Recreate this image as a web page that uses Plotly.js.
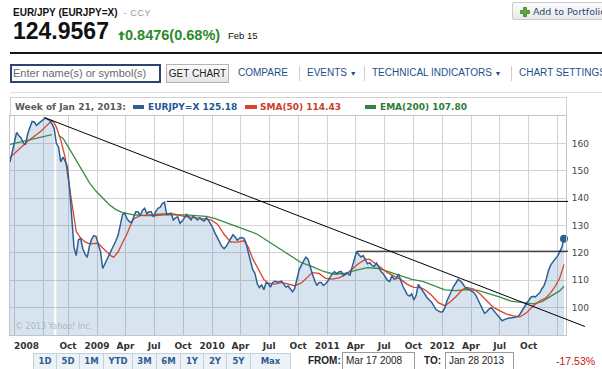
<!DOCTYPE html>
<html><head><meta charset="utf-8">
<script src="https://cdn.plot.ly/plotly-3.0.1.min.js"></script>
<style>
html,body{margin:0;padding:0;background:#fff;width:602px;height:369px;overflow:hidden;}
#wrap{position:relative;width:602px;height:369px;}
#chart{position:absolute;left:0;top:0;width:602px;height:369px;}
.a{position:absolute;white-space:nowrap;line-height:1;pointer-events:none;}
.ar{font-family:"Liberation Sans",Arial,sans-serif;}
.dv{font-family:"DejaVu Sans",Verdana,sans-serif;}
.nav{font-size:10px;color:#1d4f8c;top:68px;}
.sep{width:1px;height:15px;top:66px;background:#cfcfcf;}
.btn{position:absolute;top:0;height:16px;line-height:15px;text-align:center;border-right:1px solid #c3d0dd;font-size:8.5px;font-weight:bold;color:#2f5c94;}
</style></head><body><div id="wrap">
<div id="chart"></div>

<div class="a ar" style="left:13px;top:8px;font-size:10px;font-weight:bold;color:#111">EUR/JPY (EURJPY=X)<span style="font-weight:normal;color:#9a9a9a;font-size:9px;letter-spacing:0.6px;margin-left:6px">- CCY</span></div>
<div class="a ar" style="left:13px;top:20px;font-size:23px;font-weight:bold;color:#111">124.9567</div>
<svg class="a" style="left:118px;top:31px" width="7" height="9"><polygon points="3.5,0 7,4 4.7,4 4.7,9 2.3,9 2.3,4 0,4" fill="#2b8a2b"/></svg>
<div class="a ar" style="left:125px;top:28px;font-size:14.5px;font-weight:bold;color:#2b8a2b">0.8476(0.68%)</div>
<div class="a ar" style="left:228px;top:31px;font-size:9.5px;color:#111">Feb 15</div>
<div class="a" style="left:10px;top:51.5px;width:592px;height:2px;background:#151515"></div>

<div class="a" style="left:512px;top:2px;width:100px;height:18px;box-sizing:border-box;border:1px solid #c9c9c9;border-radius:2px;background:linear-gradient(#fcfcfc,#e9e9e9)"></div>
<svg class="a" style="left:520px;top:6.5px" width="10" height="10"><path d="M3.5,0.5h3v3h3v3h-3v3h-3v-3h-3v-3h3z" fill="#5aa83c" stroke="#3d7a28" stroke-width="0.8"/></svg>
<div class="a dv" style="left:533px;top:7px;font-size:9.5px;color:#2b4a78">Add to Portfolio</div>

<div class="a" style="left:10px;top:64px;width:151px;height:19px;box-sizing:border-box;border:2px solid #2b4470;background:#fff"></div>
<div class="a ar" style="left:13px;top:67.5px;font-size:11px;color:#6a6a6a">Enter name(s) or symbol(s)</div>
<div class="a ar" style="left:166px;top:64px;width:63px;height:19px;box-sizing:border-box;border:1px solid #b3b3b3;background:linear-gradient(#fdfdfd,#e4e4e4);font-size:10px;line-height:17px;text-align:center;color:#222">GET CHART</div>
<div class="a ar nav" style="left:238px">COMPARE</div>
<div class="a sep" style="left:299px"></div>
<div class="a ar nav" style="left:307px">EVENTS <span style="font-size:7px">&#9660;</span></div>
<div class="a sep" style="left:364px"></div>
<div class="a ar nav" style="left:372px">TECHNICAL INDICATORS <span style="font-size:7px">&#9660;</span></div>
<div class="a sep" style="left:511px"></div>
<div class="a ar nav" style="left:519px">CHART SETTINGS</div>

<div class="a" style="left:10px;top:92px;width:592px;height:1px;background:#dedede"></div>
<div class="a" style="left:10px;top:97px;width:557px;height:20px;box-sizing:border-box;border:1px solid #cfcfcf;border-bottom:none"></div>

<div class="a dv" style="left:15px;top:103px;font-size:9px;font-weight:bold;color:#5a5a5a">Week of Jan 21, 2013:</div>
<div class="a" style="left:133px;top:104.5px;width:11px;height:4px;background:#2d5f95"></div>
<div class="a dv" style="left:148px;top:103px;font-size:9px;font-weight:bold;color:#24578f">EURJPY=X 125.18</div>
<div class="a" style="left:245px;top:104.5px;width:12px;height:4px;background:#d8432b"></div>
<div class="a dv" style="left:260px;top:103px;font-size:9px;font-weight:bold;color:#c8402a">SMA(50) 114.43</div>
<div class="a" style="left:365px;top:104.5px;width:11px;height:4px;background:#2e8540"></div>
<div class="a dv" style="left:380px;top:103px;font-size:9px;font-weight:bold;color:#2e7d3a">EMA(200) 107.80</div>

<div class="a dv" style="left:15px;top:323px;font-size:8px;color:rgba(150,165,180,0.75)">&copy; 2013 Yahoo! Inc.</div>

<div class="a dv" style="left:33px;top:353px;width:258px;height:16px;box-sizing:border-box;border:1px solid #c3d0dd;border-bottom:none;background:#edf2f7">
<div class="btn" style="left:0;width:22px">1D</div><div class="btn" style="left:23px;width:22px">5D</div><div class="btn" style="left:46px;width:23px">1M</div><div class="btn" style="left:70px;width:28px">YTD</div><div class="btn" style="left:99px;width:23px">3M</div><div class="btn" style="left:123px;width:23px">6M</div><div class="btn" style="left:147px;width:22px">1Y</div><div class="btn" style="left:170px;width:22px">2Y</div><div class="btn" style="left:193px;width:23px">5Y</div><div class="btn" style="left:217px;width:39px;border-right:none">Max</div>
</div>
<div class="a ar" style="left:308px;top:356px;font-size:10px;font-weight:bold;color:#222">FROM:</div>
<div class="a ar" style="left:342px;top:352px;width:73px;height:17px;box-sizing:border-box;border:1px solid #9a9a9a;border-bottom:none;font-size:10px;line-height:16px;padding-left:3px;color:#222">Mar 17 2008</div>
<div class="a ar" style="left:424px;top:356px;font-size:10px;font-weight:bold;color:#222">TO:</div>
<div class="a ar" style="left:445px;top:352px;width:69px;height:17px;box-sizing:border-box;border:1px solid #9a9a9a;border-bottom:none;font-size:10px;line-height:16px;padding-left:3px;color:#222">Jan 28 2013</div>
<div class="a ar" style="left:556px;top:356px;font-size:10.5px;color:#cc1111">-17.53%</div>
</div>
<script>
// ---- weekly close, EUR/JPY (two weeks missing in Aug 2008) ----
const weeks2008a = ['2008-03-17','2008-03-24','2008-03-31','2008-04-07','2008-04-14','2008-04-21','2008-04-28','2008-05-05','2008-05-12','2008-05-19','2008-05-26','2008-06-02','2008-06-09','2008-06-16','2008-06-23','2008-06-30','2008-07-07','2008-07-14','2008-07-21','2008-07-28','2008-08-04'];
const close2008a = [153.2,157,161,164,162.8,162,160.3,159.5,163.4,165.5,168,167.8,166.6,167.3,168,168.8,169.3,168.8,168.4,167.2,165.5];
const weeks2008b = ['2008-08-25','2008-09-01','2008-09-08','2008-09-15','2008-09-22','2008-09-29','2008-10-06','2008-10-13','2008-10-20','2008-10-27','2008-11-03','2008-11-10','2008-11-17','2008-11-24','2008-12-01','2008-12-08','2008-12-15','2008-12-22','2008-12-29'];
const close2008b = [160,158.6,153.2,155,153.5,151.5,143.5,134,122,119,124.8,125.2,121.5,119.5,118.4,122.5,125,126.3,126];
const weeks2009 = ['2009-01-05','2009-01-12','2009-01-19','2009-01-26','2009-02-02','2009-02-09','2009-02-16','2009-02-23','2009-03-02','2009-03-09','2009-03-16','2009-03-23','2009-03-30','2009-04-06','2009-04-13','2009-04-20','2009-04-27','2009-05-04','2009-05-11','2009-05-18','2009-05-25','2009-06-01','2009-06-08','2009-06-15','2009-06-22','2009-06-29','2009-07-06','2009-07-13','2009-07-20','2009-07-27','2009-08-03','2009-08-10','2009-08-17','2009-08-24','2009-08-31','2009-09-07','2009-09-14','2009-09-21','2009-09-28','2009-10-05','2009-10-12','2009-10-19','2009-10-26','2009-11-02','2009-11-09','2009-11-16','2009-11-23','2009-11-30','2009-12-07','2009-12-14','2009-12-21','2009-12-28'];
const close2009 = [123,120.5,114.3,116,117.1,119,120.5,122.3,124.5,126.5,130,134,134.5,132.5,131.5,131,133,135,135,133.6,135.5,136.3,134.3,135,135,133.1,135,136.3,136.6,138,138.5,134,134.3,134.5,132,132.8,133.2,130.8,131.6,132.8,134,133,132,133.4,132.6,132,132.8,132,131.6,132.8,131.8,130.4];
const weeks2010 = ['2010-01-04','2010-01-11','2010-01-18','2010-01-25','2010-02-01','2010-02-08','2010-02-15','2010-02-22','2010-03-01','2010-03-08','2010-03-15','2010-03-22','2010-03-29','2010-04-05','2010-04-12','2010-04-19','2010-04-26','2010-05-03','2010-05-10','2010-05-17','2010-05-24','2010-05-31','2010-06-07','2010-06-14','2010-06-21','2010-06-28','2010-07-05','2010-07-12','2010-07-19','2010-07-26','2010-08-02','2010-08-09','2010-08-16','2010-08-23','2010-08-30','2010-09-06','2010-09-13','2010-09-20','2010-09-27','2010-10-04','2010-10-11','2010-10-18','2010-10-25','2010-11-01','2010-11-08','2010-11-15','2010-11-22','2010-11-29','2010-12-06','2010-12-13','2010-12-20','2010-12-27'];
const close2010 = [129,127,125.5,123.7,122.3,121.5,122.4,123.8,125.4,126.6,125.8,124.6,125.4,125.6,125.3,123.5,120,116.7,113.8,112.5,108.7,107.3,108.4,106.5,109,108.8,107.5,109.2,109.6,109.4,109.4,109.7,108.6,107.5,107.9,106.8,105.8,107,110.5,113.8,115.5,117.1,118.4,117.7,114.7,112.3,110,108.1,109.2,109.2,108.1,108.7];
const weeks2011 = ['2011-01-03','2011-01-10','2011-01-17','2011-01-24','2011-01-31','2011-02-07','2011-02-14','2011-02-21','2011-02-28','2011-03-07','2011-03-14','2011-03-21','2011-03-28','2011-04-04','2011-04-11','2011-04-18','2011-04-25','2011-05-02','2011-05-09','2011-05-16','2011-05-23','2011-05-30','2011-06-06','2011-06-13','2011-06-20','2011-06-27','2011-07-04','2011-07-11','2011-07-18','2011-07-25','2011-08-01','2011-08-08','2011-08-15','2011-08-22','2011-08-29','2011-09-05','2011-09-12','2011-09-19','2011-09-26','2011-10-03','2011-10-10','2011-10-17','2011-10-24','2011-10-31','2011-11-07','2011-11-14','2011-11-21','2011-11-28','2011-12-05','2011-12-12','2011-12-19','2011-12-26'];
const close2011 = [109.7,110.9,112.4,113.1,112.4,113,113.2,111.7,112.4,112.6,111.7,114.8,118,120.5,119.4,118.5,119,117.3,116,116.4,115.4,115,116.3,115,113.3,112.5,111.4,110,109.5,111.6,110.4,110.6,112.3,109.9,107.8,106.3,104.7,104.2,105,102.8,104.5,108.5,107.2,105.7,104.4,103.6,102.8,102,100.6,99.3,98.8,98.4];
const weeks2012 = ['2012-01-02','2012-01-09','2012-01-16','2012-01-23','2012-01-30','2012-02-06','2012-02-13','2012-02-20','2012-02-27','2012-03-05','2012-03-12','2012-03-19','2012-03-26','2012-04-02','2012-04-09','2012-04-16','2012-04-23','2012-04-30','2012-05-07','2012-05-14','2012-05-21','2012-05-28','2012-06-04','2012-06-11','2012-06-18','2012-06-25','2012-07-02','2012-07-09','2012-07-16','2012-07-23','2012-07-30','2012-08-06','2012-08-13','2012-08-20','2012-08-27','2012-09-03','2012-09-10','2012-09-17','2012-09-24','2012-10-01','2012-10-08','2012-10-15','2012-10-22','2012-10-29','2012-11-05','2012-11-12','2012-11-19','2012-11-26','2012-12-03','2012-12-10','2012-12-17','2012-12-24','2012-12-31'];
const close2012 = [98.5,99.9,102.5,104.5,106.5,107.8,109,110.3,109.7,108.9,107.6,107.1,106.7,106.3,105.6,104.6,102.9,101.3,99.7,97.9,98.5,99.5,100,99.1,98,97.1,96,95.2,95.6,96,96.2,96.2,96.3,96.4,96.7,97.6,99,100.2,101.5,102.6,103.8,104.1,103.9,104.7,105.4,106.9,108.1,110.5,113.7,115.6,116.9,117.8,118.7];
const weeks2013 = ['2013-01-07','2013-01-14','2013-01-21'];
const close2013 = [120.2,122,125.18];

// ---- SMA(50) ----
const smaDates = ['2008-03-17','2008-05-12','2008-06-23','2008-07-21','2008-07-28','2008-08-04','2008-08-25','2008-09-08','2008-09-22','2008-09-29','2008-10-06','2008-10-13','2008-10-20','2008-10-27','2008-11-10','2008-11-24','2008-12-08','2008-12-22',
 '2009-01-05','2009-01-19','2009-02-02','2009-02-16','2009-02-23','2009-03-09','2009-03-23','2009-04-06','2009-04-20','2009-04-27','2009-05-18','2009-06-22','2009-07-27','2009-08-31','2009-10-05','2009-11-02','2009-12-07','2009-12-28',
 '2010-01-18','2010-02-08','2010-03-01','2010-03-22','2010-04-12','2010-04-26','2010-05-10','2010-05-31','2010-06-14','2010-06-28','2010-07-19','2010-08-09','2010-08-30','2010-09-20','2010-10-11','2010-10-25','2010-11-15','2010-12-06','2010-12-27',
 '2011-01-17','2011-02-07','2011-02-28','2011-03-21','2011-04-11','2011-05-02','2011-05-16','2011-05-30','2011-06-20','2011-07-11','2011-08-01','2011-08-22','2011-09-12','2011-10-03','2011-10-24','2011-11-07','2011-11-28','2011-12-19',
 '2012-01-09','2012-01-23','2012-02-13','2012-03-05','2012-03-19','2012-04-09','2012-04-30','2012-05-21','2012-06-11','2012-07-02','2012-07-23','2012-08-13','2012-09-03','2012-09-24','2012-10-15','2012-11-05','2012-11-26','2012-12-10','2012-12-24',
 '2013-01-07','2013-01-14','2013-01-21'];
const smaValues = [154.8,160.8,164.4,167.6,168.4,167.5,166,161.3,154.8,149,143.5,137.8,131.8,127.8,125.4,124,123.3,123.5,
 123.5,121.8,120.2,118.8,118.4,120.4,123.8,126.9,130.8,132.4,133.6,133.9,134.2,134.2,133.3,133,132.3,132.1,
 130.5,126.8,123.9,123.9,124.4,122,117.8,113,110.3,108.9,108.6,109.2,108.6,108,109,110.6,112.8,112.5,110.7,
 110.4,110.9,112,114.2,116.1,117.6,117.6,116.4,114.6,112.8,111.5,110.3,108.5,107.4,107.3,106.5,104.5,101.8,
 100.7,101.8,104,106.6,107.4,106.8,105,102.5,100.1,98.8,97.6,97,96.6,98.1,100.6,102.4,103.7,105.5,107.8,
 110.7,113,115.8];

// ---- EMA(200) (null = week missing in the drawing) ----
const emaDates = ['2008-03-17','2008-07-28','2008-08-25','2008-09-01','2008-09-15','2008-10-06','2008-10-27','2008-11-17','2008-12-08','2008-12-29',
 '2009-01-19','2009-02-09','2009-03-02','2009-03-23','2009-04-27','2009-06-01','2009-07-06','2009-08-03','2009-09-14','2009-10-12','2009-11-09','2009-12-14',
 '2010-01-11','2010-02-15','2010-03-15','2010-04-12','2010-05-03','2010-05-24','2010-06-28','2010-08-02','2010-09-06','2010-10-11','2010-11-15','2010-12-20',
 '2011-01-24','2011-02-28','2011-04-04','2011-05-09','2011-06-13','2011-07-18','2011-08-22','2011-09-26','2011-10-31','2011-12-05',
 '2012-01-09','2012-02-13','2012-03-19','2012-04-23','2012-05-28','2012-07-02','2012-08-06','2012-09-10','2012-10-15','2012-11-12','2012-12-10',
 '2013-01-07','2013-01-21'];
const emaValues = [159.6,163.2,null,162.9,161.9,157.9,153.7,149.4,145.6,142.5,
 140.1,137.6,135.8,134.7,133.9,133.6,133.6,133.9,133.9,133.9,133.6,133.3,
 132.5,131.1,129.8,128.9,127.8,126.8,124.2,121.5,118.9,116.4,115,113.2,
 112.2,112.6,113.7,114.6,114.3,113,111.5,110.3,109.6,108,
 106.5,106.2,106.6,106.3,105.1,103.8,102.4,101.8,101.4,102.2,104,
 106.1,107.8];

// ---- hand-drawn lines (start / end) ----
const trendDates = ['2008-07-06','2013-03-28'];
const trendValues = [169.4,93.1];
const resist1Dates = ['2009-07-31','2013-02-02'];
const resist1Values = [138.8,138.8];
const resist2Dates = ['2011-03-31','2013-02-02'];
const resist2Values = [120.6,120.6];

// ---- axes ----
const tickDates = ['2008-04-01','2008-07-01','2008-10-01','2009-01-01','2009-04-01','2009-07-01','2009-10-01','2010-01-01','2010-04-01','2010-07-01','2010-10-01','2011-01-01','2011-04-01','2011-07-01','2011-10-01','2012-01-01','2012-04-01','2012-07-01','2012-10-01','2013-01-01'];
const tickLabels = ['','','Oct','2009','Apr','Jul','Oct','2010','Apr','Jul','Oct','2011','Apr','Jul','Oct','2012','Apr','Jul','Oct',''];
const firstLabel = '2008';
const yTicks = [100,110,120,130,140,150,160];
const yRange = [90,170];
const xRange = ['2008-03-17','2013-01-27 07:00'];
const gapBounds = ['2008-08-08','2008-08-22'];

const weeksA = weeks2008a, closeA = close2008a;
const weeksB = [].concat(weeks2008b,weeks2009,weeks2010,weeks2011,weeks2012,weeks2013);
const closeB = [].concat(close2008b,close2009,close2010,close2011,close2012,close2013);
const weeks = weeksA.concat(weeksB);
const close = closeA.concat(closeB);

// plot area in page pixels
const W = 602, H = 369, PL = 10, PR = 566, PT = 116, PB = 335;
const toMs = s => Date.parse(s.replace(' ','T') + (s.length > 10 ? ':00Z' : 'T00:00:00Z'));
const gapMs = toMs(gapBounds[1]) - toMs(gapBounds[0]);
const msPerPx = (toMs(xRange[1]) - toMs(xRange[0]) - gapMs) / (PR - PL);
const fmt = ms => new Date(ms).toISOString().replace('T',' ').replace('Z','');
const wideRange = [fmt(toMs(xRange[0]) - PL*msPerPx), fmt(toMs(xRange[1]) + (W-PR)*msPerPx)];

const BLUE = '#2d5f95', RED = '#d8432b', GREEN = '#3a8c3f';
const FILL = 'rgba(54,120,180,0.2)';
const last = weeks.length - 1;

const traces = [
  {x: weeksA, y: closeA, type:'scatter', mode:'lines', fill:'tozeroy', fillcolor:FILL, line:{width:0, color:BLUE}, hoverinfo:'skip'},
  {x: weeksB, y: closeB, type:'scatter', mode:'lines', fill:'tozeroy', fillcolor:FILL, line:{width:0, color:BLUE}, hoverinfo:'skip'},
  {x: emaDates, y: emaValues, type:'scatter', mode:'lines', connectgaps:false, line:{color:GREEN, width:1.3}, hoverinfo:'skip'},
  {x: smaDates, y: smaValues, type:'scatter', mode:'lines', line:{color:RED, width:1.3}, hoverinfo:'skip'},
  {x: weeks, y: close, type:'scatter', mode:'lines', line:{color:BLUE, width:1.5}, hoverinfo:'skip'},
  {x: [weeks[last]], y: [close[last]], type:'scatter', mode:'markers', marker:{color:BLUE, size:8}, cliponaxis:false, hoverinfo:'skip'},
  {x: trendDates, y: trendValues, xaxis:'x3', yaxis:'y3', type:'scatter', mode:'lines', line:{color:'#000', width:1}, hoverinfo:'skip'},
  {x: resist1Dates, y: resist1Values, xaxis:'x3', yaxis:'y3', type:'scatter', mode:'lines', line:{color:'#000', width:1}, hoverinfo:'skip'},
  {x: resist2Dates, y: resist2Values, xaxis:'x3', yaxis:'y3', type:'scatter', mode:'lines', line:{color:'#000', width:1}, hoverinfo:'skip'}
];

const TICKFONT_X = {family:'DejaVu Sans, Verdana, sans-serif', size:9, color:'#333', weight:'bold'};
const yDom = [(H-PB)/H, (H-PT)/H];
const layout = {
  width: W, height: H,
  margin: {l:0, r:0, t:0, b:0},
  paper_bgcolor: 'rgba(0,0,0,0)', plot_bgcolor: 'rgba(0,0,0,0)',
  showlegend: false, hovermode: false,
  xaxis: {
    domain: [PL/W, PR/W], type:'date', range: xRange,
    rangebreaks: [{bounds: gapBounds}],
    tickmode:'array', tickvals: tickDates, ticktext: tickLabels,
    showgrid: true, gridcolor:'#d3d3d3', gridwidth:1,
    showline: true, mirror: true, linecolor:'#c4c4c4', linewidth:1,
    ticks:'', zeroline:false,
    tickfont: TICKFONT_X,
    ticklabelstandoff: 2
  },
  yaxis: {
    domain: yDom, range: yRange, side:'right',
    tickmode:'array', tickvals: yTicks,
    showgrid: true, gridcolor:'#d3d3d3', gridwidth:1,
    showline: true, mirror: true, linecolor:'#c4c4c4', linewidth:1,
    ticks:'', zeroline:false,
    tickfont: {family:'DejaVu Sans, Verdana, sans-serif', size:9, color:'#444'},
    ticklabelstandoff: 3
  },
  xaxis3: {domain:[0,1], type:'date', range: wideRange, rangebreaks:[{bounds: gapBounds}], anchor:'y3', visible:false},
  yaxis3: {domain: yDom, range: yRange, anchor:'x3', visible:false},
  annotations: [{
    x: weeks[0], xref:'x', xanchor:'left', xshift:2,
    y: (H-346)/H, yref:'paper', yanchor:'middle',
    text: firstLabel, showarrow:false, font: TICKFONT_X
  }]
};

Plotly.newPlot('chart', traces, layout, {staticPlot:true, displayModeBar:false});
</script>
</body></html>
